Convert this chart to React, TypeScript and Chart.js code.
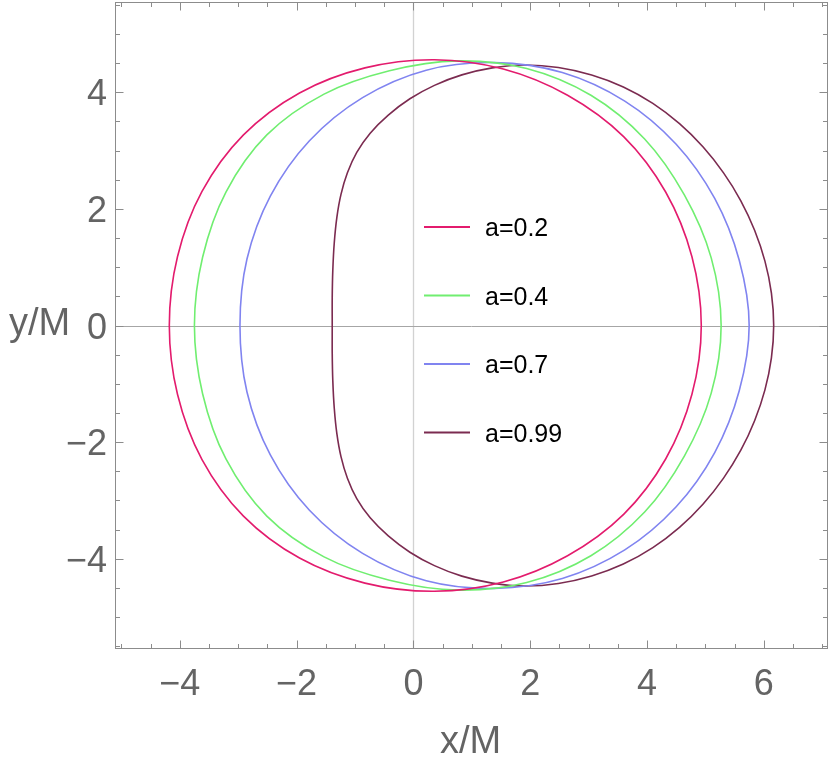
import React, { useEffect, useRef } from 'react';
import { Chart, registerables } from 'chart.js';

Chart.register(...registerables);

// ---- data; each curve is a closed loop ----
const seriesLabels = ['a=0.2', 'a=0.4', 'a=0.7', 'a=0.99'];
const seriesColors = ['#E31B6D', '#70EE70', '#8084F0', '#7B2B50'];

const a02X = [-4.18, -4.04, -3.62, -2.91, -1.95, -0.83, 0.36, 1.54, 2.64, 3.60, 4.32, 4.77, 4.93,
  4.77, 4.32, 3.60, 2.64, 1.54, 0.36, -0.83, -1.95, -2.91, -3.62, -4.04];
const a02Y = [0, 1.18, 2.30, 3.27, 3.99, 4.42, 4.56, 4.40, 3.95, 3.24, 2.29, 1.18, 0,
  -1.18, -2.29, -3.24, -3.95, -4.40, -4.56, -4.42, -3.99, -3.27, -2.30, -1.18];

const a04X = [-3.75, -3.61, -3.21, -2.51, -1.53, -0.41, 0.76, 1.94, 3.04, 3.96, 4.64, 5.10, 5.27,
  5.10, 4.64, 3.96, 3.04, 1.94, 0.76, -0.41, -1.53, -2.51, -3.21, -3.61];
const a04Y = [0, 1.17, 2.29, 3.27, 3.97, 4.37, 4.54, 4.41, 3.95, 3.20, 2.24, 1.16, 0,
  -1.16, -2.24, -3.20, -3.95, -4.41, -4.54, -4.37, -3.97, -3.27, -2.29, -1.17];

const a07X = [-2.97, -2.85, -2.45, -1.78, -0.87, 0.22, 1.39, 2.55, 3.62, 4.50, 5.16, 5.58, 5.75,
  5.58, 5.16, 4.50, 3.62, 2.55, 1.39, 0.22, -0.87, -1.78, -2.45, -2.85];
const a07Y = [0, 1.14, 2.22, 3.17, 3.91, 4.38, 4.51, 4.34, 3.85, 3.11, 2.18, 1.12, 0,
  -1.12, -2.18, -3.11, -3.85, -4.34, -4.51, -4.38, -3.91, -3.17, -2.22, -1.14];

const a099X = [-1.39, -1.39, -1.38, -1.355, -1.31, -1.24, -1.13, -0.97, -0.74, -0.43, -0.06, 0.36, 0.83, 1.35, 1.90,
  2.483, 3.052, 3.595, 4.100, 4.557, 4.962, 5.311, 5.607, 5.843, 6.020, 6.131, 6.170,
  6.131, 6.020, 5.843, 5.607, 5.311, 4.962, 4.557, 4.100, 3.595, 3.052, 2.483,
  1.90, 1.35, 0.83, 0.36, -0.06, -0.43, -0.74, -0.97, -1.13, -1.24, -1.31, -1.355, -1.38, -1.39];
const a099Y = [0, 0.48, 0.95, 1.42, 1.86, 2.25, 2.62, 2.97, 3.30, 3.61, 3.89, 4.12, 4.30, 4.42, 4.47,
  4.427, 4.298, 4.093, 3.811, 3.463, 3.062, 2.618, 2.140, 1.633, 1.104, 0.557, 0,
  -0.557, -1.104, -1.633, -2.140, -2.618, -3.062, -3.463, -3.811, -4.093, -4.298, -4.427,
  -4.47, -4.42, -4.30, -4.12, -3.89, -3.61, -3.30, -2.97, -2.62, -2.25, -1.86, -1.42, -0.95, -0.48];

const seriesX = [a02X, a04X, a07X, a099X];
const seriesY = [a02Y, a04Y, a07Y, a099Y];

const xTickValues = [-4, -2, 0, 2, 4, 6];
const xTickLabels = ['\u22124', '\u22122', '0', '2', '4', '6'];
const yTickValues = [-4, -2, 0, 2, 4];
const yTickLabels = ['\u22124', '\u22122', '0', '2', '4'];
const xAxisTitle = 'x/M';
const yAxisTitle = 'y/M';

const X_MIN = -5.11, X_MAX = 7.1, Y_MIN = -5.55, Y_MAX = 5.55;
const MINOR_STEP = 0.5;

const FONT = '"Liberation Sans", Arial, sans-serif';
const TICK_COLOR = '#646464';
const FRAME_COLOR = '#8c8c8c';

// close each curve into a smooth loop (Chart.js line element loop mode)
const loopPlugin = {
  id: 'closedLoops',
  afterDatasetsUpdate(chart: any) {
    chart.data.datasets.forEach((_d: any, i: number) => {
      const meta = chart.getDatasetMeta(i);
      if (meta && meta.dataset) {
        meta.dataset._loop = true;
        meta.dataset._fullLoop = true;
        meta.dataset._pointsUpdated = false;
        meta.dataset._segments = undefined;
        meta.dataset._path = undefined;
      }
    });
  },
};

const framePlugin = {
  id: 'mmaFrame',
  beforeDatasetsDraw(chart: any) {
    const { ctx, chartArea: a, scales } = chart;
    const x0 = Math.round(scales.x.getPixelForValue(0)) + 0.5;
    const y0 = Math.round(scales.y.getPixelForValue(0)) + 0.5;
    ctx.save();
    ctx.lineWidth = 1.3;
    ctx.strokeStyle = '#d2d2d2';
    ctx.beginPath();
    ctx.moveTo(x0, a.top);
    ctx.lineTo(x0, a.bottom);
    ctx.stroke();
    ctx.lineWidth = 1;
    ctx.strokeStyle = '#a6a6a6';
    ctx.beginPath();
    ctx.moveTo(a.left, y0);
    ctx.lineTo(a.right, y0);
    ctx.stroke();
    ctx.restore();
  },
  afterDatasetsDraw(chart: any) {
    const { ctx, chartArea: a, scales } = chart;
    const sx = scales.x, sy = scales.y;
    const L = Math.round(a.left) + 0.5, R = Math.round(a.right) - 0.5;
    const T = Math.round(a.top) + 0.5, B = Math.round(a.bottom) - 0.5;
    ctx.save();
    ctx.strokeStyle = FRAME_COLOR;
    ctx.lineWidth = 1;
    ctx.strokeRect(L, T, R - L, B - T);
    const isMajor = (v: number) => Math.abs(v / 2 - Math.round(v / 2)) < 1e-6;
    ctx.beginPath();
    for (let v = Math.ceil(X_MIN / MINOR_STEP) * MINOR_STEP; v <= X_MAX + 1e-9; v += MINOR_STEP) {
      const px = Math.round(sx.getPixelForValue(v)) + 0.5;
      const len = isMajor(v) ? 8 : 4.5;
      ctx.moveTo(px, B); ctx.lineTo(px, B - len);
      ctx.moveTo(px, T); ctx.lineTo(px, T + len);
    }
    for (let v = Math.ceil(Y_MIN / MINOR_STEP) * MINOR_STEP; v <= Y_MAX + 1e-9; v += MINOR_STEP) {
      const py = Math.round(sy.getPixelForValue(v)) + 0.5;
      const len = isMajor(v) ? 8 : 4.5;
      ctx.moveTo(L, py); ctx.lineTo(L + len, py);
      ctx.moveTo(R, py); ctx.lineTo(R - len, py);
    }
    ctx.stroke();

    ctx.fillStyle = TICK_COLOR;
    ctx.font = `36px ${FONT}`;
    ctx.textBaseline = 'alphabetic';
    ctx.textAlign = 'center';
    xTickValues.forEach((v, i) => {
      ctx.fillText(xTickLabels[i], sx.getPixelForValue(v), a.bottom + 46);
    });
    ctx.textAlign = 'right';
    yTickValues.forEach((v, i) => {
      ctx.fillText(yTickLabels[i], a.left - 8, sy.getPixelForValue(v) + 13);
    });
    ctx.font = `38px ${FONT}`;
    ctx.textAlign = 'center';
    ctx.fillText(xAxisTitle, sx.getPixelForValue(0.98), a.bottom + 104);
    ctx.textAlign = 'left';
    ctx.fillText(yAxisTitle, 9, sy.getPixelForValue(0) + 9);

    ctx.font = `25px ${FONT}`;
    ctx.fillStyle = '#000000';
    ctx.textAlign = 'left';
    const legX = a.left + 309;
    const legTop = a.top + 225;
    const legStep = 68.5;
    seriesLabels.forEach((lab, i) => {
      const yy = legTop + i * legStep;
      ctx.strokeStyle = seriesColors[i];
      ctx.lineWidth = 2;
      ctx.beginPath();
      ctx.moveTo(legX, yy);
      ctx.lineTo(legX + 46, yy);
      ctx.stroke();
      ctx.fillText(lab, legX + 61, yy + 9);
    });
    ctx.restore();
  },
};

export default function App() {
  const ref = useRef<HTMLCanvasElement | null>(null);
  useEffect(() => {
    document.body.style.margin = '0';
    const canvas = ref.current;
    if (!canvas) return;
    const datasets = seriesLabels.map((label, i) => ({
      label,
      data: seriesX[i].map((x, j) => ({ x, y: seriesY[i][j] })),
      borderColor: seriesColors[i],
      backgroundColor: seriesColors[i],
      borderWidth: 1.6,
      pointRadius: 0,
      pointHoverRadius: 0,
      tension: 0.34,
      capBezierPoints: false,
      fill: false,
    }));
    const chart = new Chart(canvas, {
      type: 'line',
      data: { datasets },
      options: {
        animation: false,
        responsive: false,
        events: [],
        layout: { padding: { left: 115, right: 2, top: 2, bottom: 114 } },
        plugins: { legend: { display: false }, tooltip: { enabled: false } },
        scales: {
          x: { type: 'linear', min: X_MIN, max: X_MAX, display: false },
          y: { type: 'linear', min: Y_MIN, max: Y_MAX, display: false },
        },
      },
      plugins: [loopPlugin, framePlugin],
    } as any);
    return () => chart.destroy();
  }, []);
  return (
    <div style={{ width: 830, height: 763, background: '#fff' }}>
      <canvas ref={ref} width={830} height={763} style={{ display: 'block', width: 830, height: 763 }} />
    </div>
  );
}
